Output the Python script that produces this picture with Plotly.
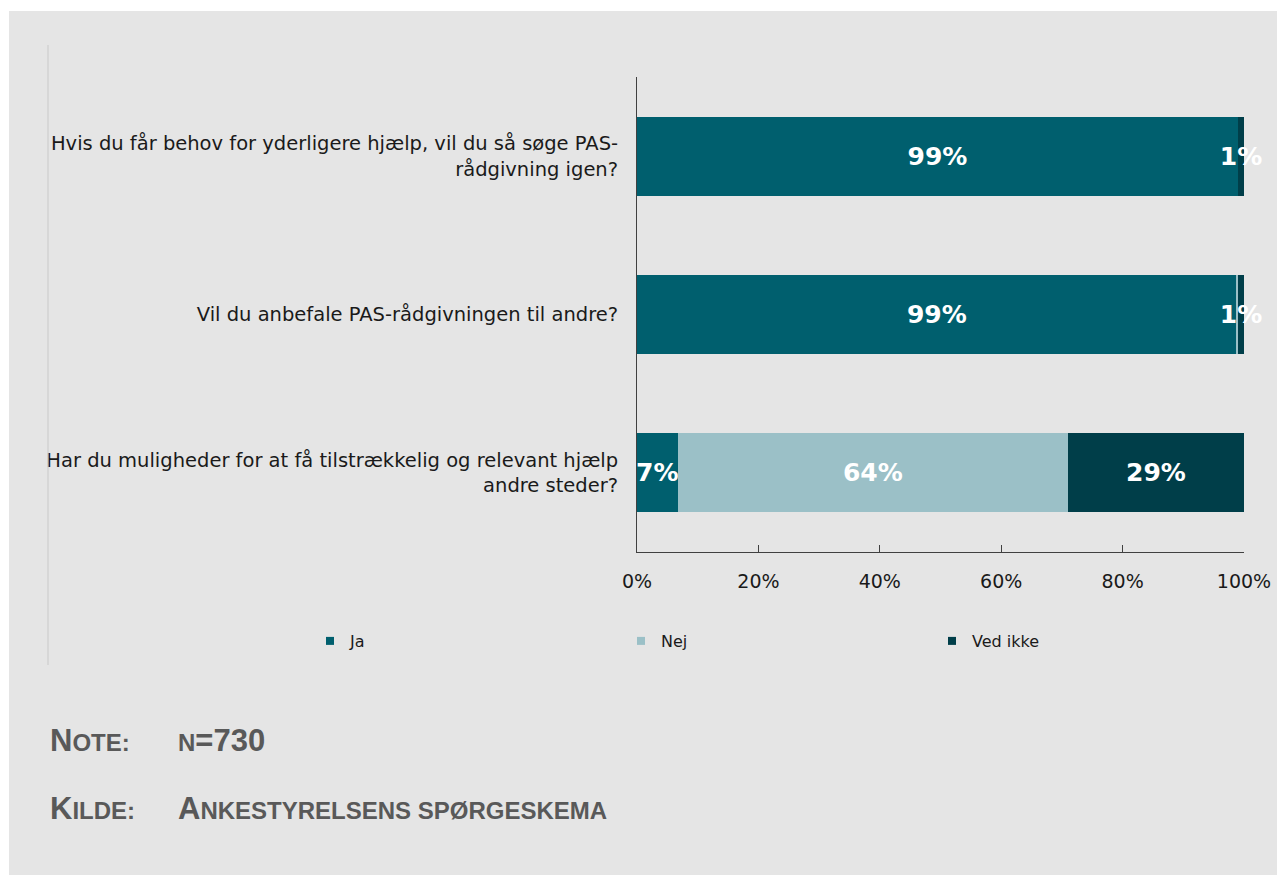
import plotly.graph_objects as go

questions = [
    "Hvis du får behov for yderligere hjælp, vil du så søge PAS-<br>rådgivning igen?",
    "Vil du anbefale PAS-rådgivningen til andre?",
    "Har du muligheder for at få tilstrækkelig og relevant hjælp<br>andre steder?",
]
ja = [99.0, 98.8, 6.7]
nej = [0.0, 0.2, 64.3]
ved_ikke = [1.0, 1.0, 29.0]

series_names = ["Ja", "Nej", "Ved ikke"]
series_colors = ["#005f6e", "#9bc0c7", "#003e49"]

# page body has an 8px margin, so the figure is placed 8px in from the window edge
OFF = 8
W, H = 1285 - OFF, 875
PL, PR, PT, PB = 637, 1244, 77, 552  # plot area in window pixels
L, T = PL - OFF, PT - OFF
PW, PH = PR - PL, PB - PT
R, B = W - L - PW, H - T - PH


def px_x(p):
    return (p - PL) / PW


def px_y(p):
    return (PB - p) / PH


def labels(vals):
    return [f"{v:.0f}%" if v >= 0.5 else "" for v in vals]


fig = go.Figure()
for name, vals, col in zip(series_names, [ja, nej, ved_ikke], series_colors):
    fig.add_trace(go.Bar(
        y=questions, x=vals, name=name, orientation="h",
        marker=dict(color=col, line=dict(width=0)),
        text=labels(vals), textposition="inside", insidetextanchor="middle",
        constraintext="none", textangle=0, cliponaxis=False,
        textfont=dict(family="DejaVu Sans", size=25, color="white", weight="bold"),
        width=0.5, showlegend=False,
    ))
# small square legend keys
for name, col in zip(series_names, series_colors):
    fig.add_trace(go.Scatter(
        x=[None], y=[None], mode="markers", name=name,
        marker=dict(symbol="square", size=8, color=col),
    ))

note_font = dict(family="Liberation Sans", size=24, color="#595959")


def small_caps(first, rest):
    return f"<b><span style='font-size:31px'>{first}</span>{rest}</b>"


fig.update_layout(
    width=W, height=H,
    barmode="stack",
    margin=dict(l=L, r=R, t=T, b=B),
    paper_bgcolor="white",
    plot_bgcolor="rgba(0,0,0,0)",
    font=dict(family="DejaVu Sans", size=19, color="#1a1a1a"),
    showlegend=True,
    legend=dict(
        orientation="h", x=px_x(310), y=px_y(641), xanchor="left", yanchor="middle",
        traceorder="normal", entrywidth=266, entrywidthmode="pixels",
        font=dict(family="DejaVu Sans", size=16, color="#1a1a1a"),
        bgcolor="rgba(0,0,0,0)", itemclick=False,
    ),
    xaxis=dict(
        range=[0, 100], tickvals=[0, 20, 40, 60, 80, 100],
        ticktext=["0%", "20%", "40%", "60%", "80%", "100%"],
        showgrid=False, zeroline=False, showline=True, linecolor="#404040", linewidth=1,
        ticks="inside", ticklen=7, tickcolor="#404040",
        ticklabelstandoff=12, tickfont=dict(size=19),
    ),
    yaxis=dict(
        autorange="reversed", showgrid=False, zeroline=False,
        showline=True, linecolor="#404040", linewidth=1,
        ticks="", ticklabelstandoff=14, tickfont=dict(size=19.5),
    ),
    shapes=[
        dict(type="rect", xref="paper", yref="paper", layer="below",
             x0=px_x(9), x1=px_x(1284), y0=px_y(900), y1=px_y(11),
             fillcolor="#e5e5e5", line=dict(width=0)),
        dict(type="line", xref="paper", yref="paper",
             x0=px_x(48), x1=px_x(48), y0=px_y(45), y1=px_y(665),
             line=dict(color="#c9c9c9", width=1)),
    ],
    annotations=[
        dict(xref="paper", yref="paper", x=px_x(48), y=px_y(740), xanchor="left",
             yanchor="middle", showarrow=False, text=small_caps("N", "OTE:"),
             font=note_font),
        dict(xref="paper", yref="paper", x=px_x(176), y=px_y(740), xanchor="left",
             yanchor="middle", showarrow=False,
             text="<b>N<span style='font-size:31px'>=730</span></b>",
             font=note_font),
        dict(xref="paper", yref="paper", x=px_x(48), y=px_y(808), xanchor="left",
             yanchor="middle", showarrow=False, text=small_caps("K", "ILDE:"),
             font=note_font),
        dict(xref="paper", yref="paper", x=px_x(176), y=px_y(808), xanchor="left",
             yanchor="middle", showarrow=False,
             text=small_caps("A", "NKESTYRELSENS SPØRGESKEMA"),
             font=note_font),
    ],
)

fig.write_html("out.html")
